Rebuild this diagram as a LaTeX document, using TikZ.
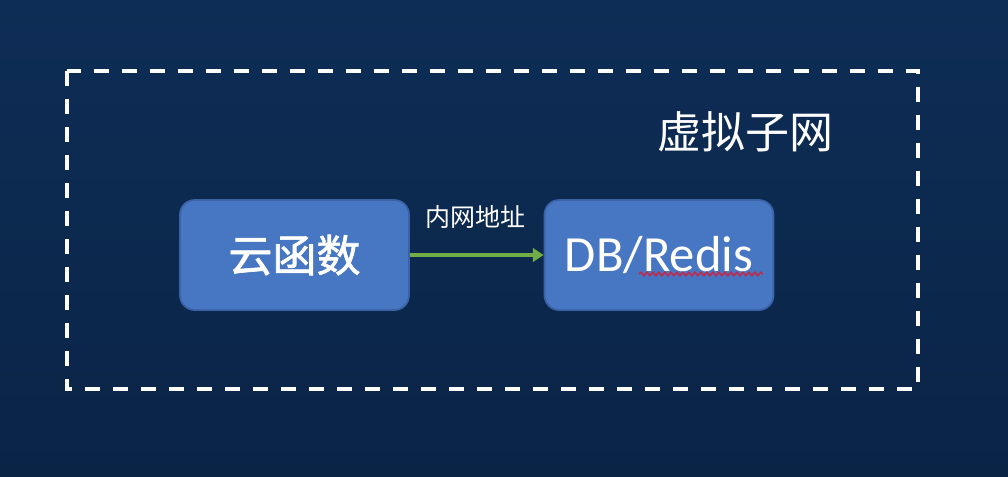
\documentclass[tikz,border=0pt]{standalone}
\usepackage{fontspec}
\setmainfont{Carlito}
\newfontfamily\cjk[FakeBold=1.5]{Noto Sans CJK SC}
\newfontfamily\cjkthin{Noto Sans CJK SC}
\usetikzlibrary{arrows.meta,decorations.pathmorphing,calc}
\definecolor{bgtop}{HTML}{0E2D56}
\definecolor{bgbot}{HTML}{0A2446}
\definecolor{boxfill}{HTML}{4776C3}
\definecolor{boxedge}{HTML}{3A62A6}
\definecolor{arrowgreen}{HTML}{70AD47}
\definecolor{wavyred}{HTML}{D0213A}
\tikzset{
  procbox/.style={draw=boxedge, line width=1.3pt, fill=boxfill, rounded corners=11pt,
    minimum width=171.75pt, minimum height=82.5pt, text=white, inner sep=0pt},
  frame/.style={draw=white, line width=2.8pt, dash pattern=on 11.5pt off 9.5pt},
  flow/.style={draw=arrowgreen, line width=2.6pt, -{Triangle[length=8pt,width=10pt]}},
  lbl/.style={text=white, inner sep=0pt}
}
\begin{document}
\begin{tikzpicture}[x=0.75pt,y=-0.75pt]
\useasboundingbox (0,0) rectangle (1008,476);
\shade[top color=bgtop, bottom color=bgbot] (0,0) rectangle (1008,476);
\draw[frame] (67,71) rectangle (918,389);
\node[lbl, font=\cjkthin\fontsize{33pt}{36pt}\selectfont] (subnet) at (745,132) {虚拟子网};
\node[procbox, font=\cjk\fontsize{33pt}{36pt}\selectfont] (func) at (294.5,255) {云函数};
\node[procbox, font=\fontsize{38pt}{40pt}\selectfont] (db) at (659,255) {DB/Redis};
\draw[flow] (func.east) -- (db.west);
\node[lbl, font=\cjkthin\fontsize{18.75pt}{20pt}\selectfont] (addr) at (475,217) {内网地址};
\coordinate (wavyA) at ($(db.center)+(-20,19)$);
\coordinate (wavyB) at ($(db.center)+(104,19)$);
\draw[wavyred, line width=1pt, decorate, decoration={snake, segment length=4.5pt, amplitude=1.4pt}] (wavyA) -- (wavyB);
\end{tikzpicture}
\end{document}
